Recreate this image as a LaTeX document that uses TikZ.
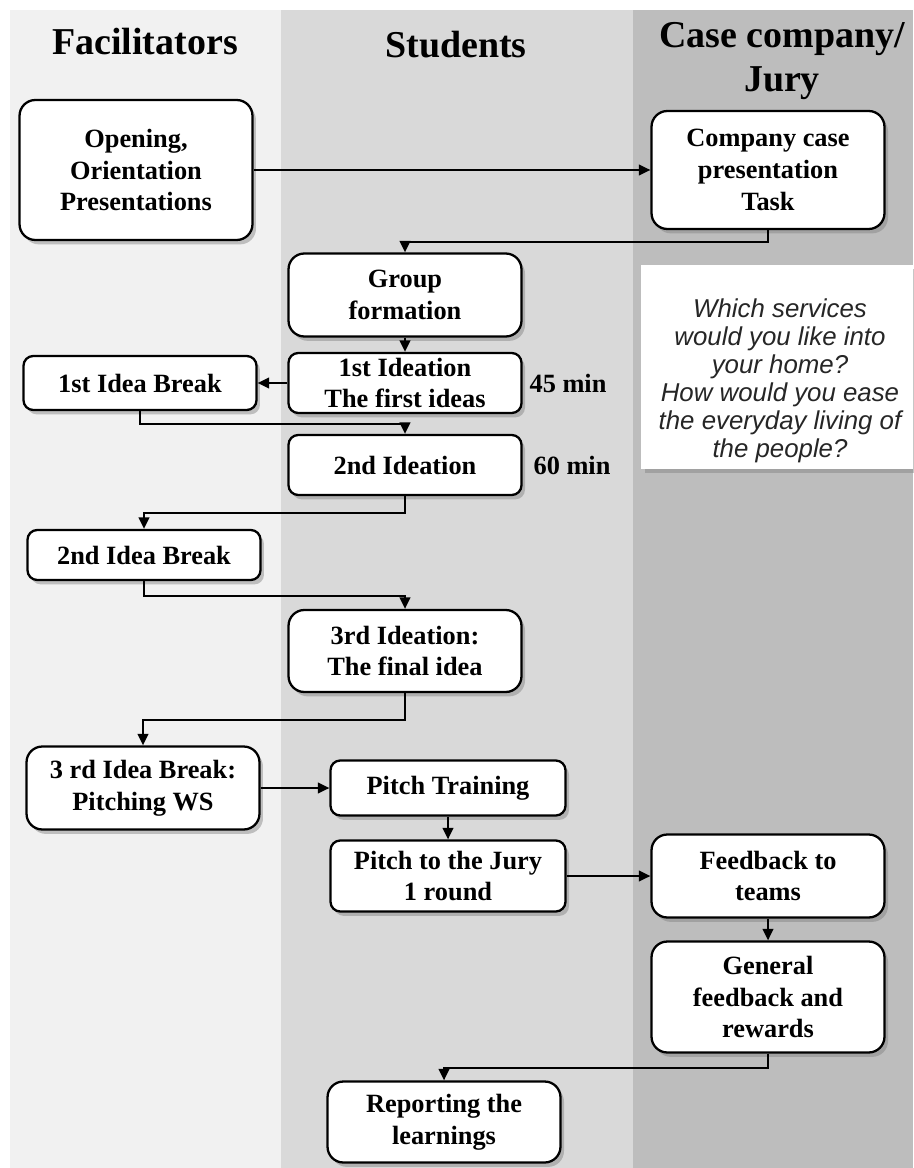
\documentclass[tikz,border=0pt]{standalone}
\usepackage{fontspec}
\setmainfont{Liberation Serif}
\newfontfamily\QuestionFont{Liberation Sans}
\usepackage{tikz}
\usetikzlibrary{arrows.meta}
\usetikzlibrary{shadows}
\usepackage{xcolor}
\definecolor{ColLaneA}{RGB}{241,241,241}
\definecolor{ColLaneB}{RGB}{217,217,217}
\definecolor{ColLaneC}{RGB}{189,189,189}
\tikzstyle{StepBox}=[rectangle,draw=black,fill=white,line width=1.3pt,rounded corners=5.5pt,align=center,
minimum width=4.66cm,inner xsep=2pt,inner ysep=1pt,font=\bfseries\fontsize{15}{18}\selectfont,
drop shadow={shadow xshift=2pt,shadow yshift=-2.5pt,opacity=0.45}]
\tikzstyle{BigStep}=[StepBox,rounded corners=9pt]
\tikzstyle{EdgeFlow}=[black,line width=1.1pt,-{Triangle[length=6.5pt,width=6pt]}]
\tikzstyle{LaneTitle}=[align=center,font=\bfseries\fontsize{21.6}{25.5}\selectfont]
\tikzstyle{TimeNote}=[font=\bfseries\fontsize{15}{18}\selectfont]
\tikzstyle{QuestionText}=[align=center,text=black!85,font=\QuestionFont\itshape\fontsize{14.7}{15.9}\selectfont]
\begin{document}
\begin{tikzpicture}[x=0.02cm,y=-0.02cm]
    \useasboundingbox(0,0)rectangle(913,1168);
    \fill[ColLaneA](10,10)rectangle(281,1168);
    \fill[ColLaneB](281,10)rectangle(633,1168);
    \fill[ColLaneC](633,10)rectangle(913,1168);
    \fill[white,drop shadow={shadow xshift=2pt,shadow yshift=-2.5pt,opacity=0.45}](641,265)rectangle(913,469);
    \node[LaneTitle,anchor=base](facil)at(145,55){Facilitators};
    \node[LaneTitle,anchor=base](stud)at(456,58){Students};
    \node[LaneTitle](jurytitle)at(782,61){Case company/\\Jury};
    \node[BigStep,minimum height=2.8cm](opening)at(136,170){Opening,\\Orientation\\Presentations};
    \node[BigStep,minimum height=2.36cm](company)at(768,170){Company case\\presentation\\Task};
    \node[BigStep,minimum height=1.66cm](group)at(405,295){Group\\formation};
    \node[StepBox,minimum height=1.2cm](ideaA)at(405,383){1st Ideation\\The first ideas};
    \node[StepBox,minimum height=1.08cm](breakA)at(140,383){1st Idea Break};
    \node[StepBox,minimum height=1.2cm](ideaB)at(405,465){2nd Ideation};
    \node[StepBox,minimum height=1.0cm](breakB)at(144,555){2nd Idea Break};
    \node[BigStep,minimum height=1.64cm](ideaC)at(405,651){3rd Ideation:\\The final idea};
    \node[BigStep,minimum height=1.66cm](breakC)at(143,788){3 rd Idea Break:\\Pitching WS};
    \node[StepBox,minimum height=1.1cm,minimum width=4.7cm](training)at(448,788){Pitch Training};
    \node[StepBox,minimum height=1.42cm,minimum width=4.7cm](jury)at(448,876){Pitch to the Jury\\1 round};
    \node[BigStep,minimum height=1.66cm](feedback)at(768,876){Feedback to\\teams};
    \node[BigStep,minimum height=2.22cm](general)at(768,997){General\\feedback and\\rewards};
    \node[BigStep,minimum height=1.62cm](reporting)at(444,1122){Reporting the\\learnings};
    \node[TimeNote](timeA)at(568,383){45 min};
    \node[TimeNote](timeB)at(572,465){60 min};
    \node[QuestionText](question)at(780,381){Which services\\would you like into\\your home?\\How would you ease\\the everyday living of\\the people?};
    \draw[EdgeFlow](opening.east)--(opening.east -| company.west);
    \draw[EdgeFlow](company.south)--++(0,12)-|(group.north);
    \draw[EdgeFlow](group)--(ideaA);
    \draw[EdgeFlow](ideaA)--(breakA);
    \draw[EdgeFlow](breakA.south)--++(0,13)-|(ideaB.north);
    \draw[EdgeFlow](ideaB.south)--++(0,17)-|(breakB.north);
    \draw[EdgeFlow](breakB.south)--++(0,15)-|(ideaC.north);
    \draw[EdgeFlow](ideaC.south)--++(0,27)-|(breakC.north);
    \draw[EdgeFlow](breakC)--(training);
    \draw[EdgeFlow](training)--(jury);
    \draw[EdgeFlow](jury)--(feedback);
    \draw[EdgeFlow](feedback)--(general);
    \draw[EdgeFlow](general.south)--++(0,14)-|(reporting.north);
\end{tikzpicture}
\end{document}
